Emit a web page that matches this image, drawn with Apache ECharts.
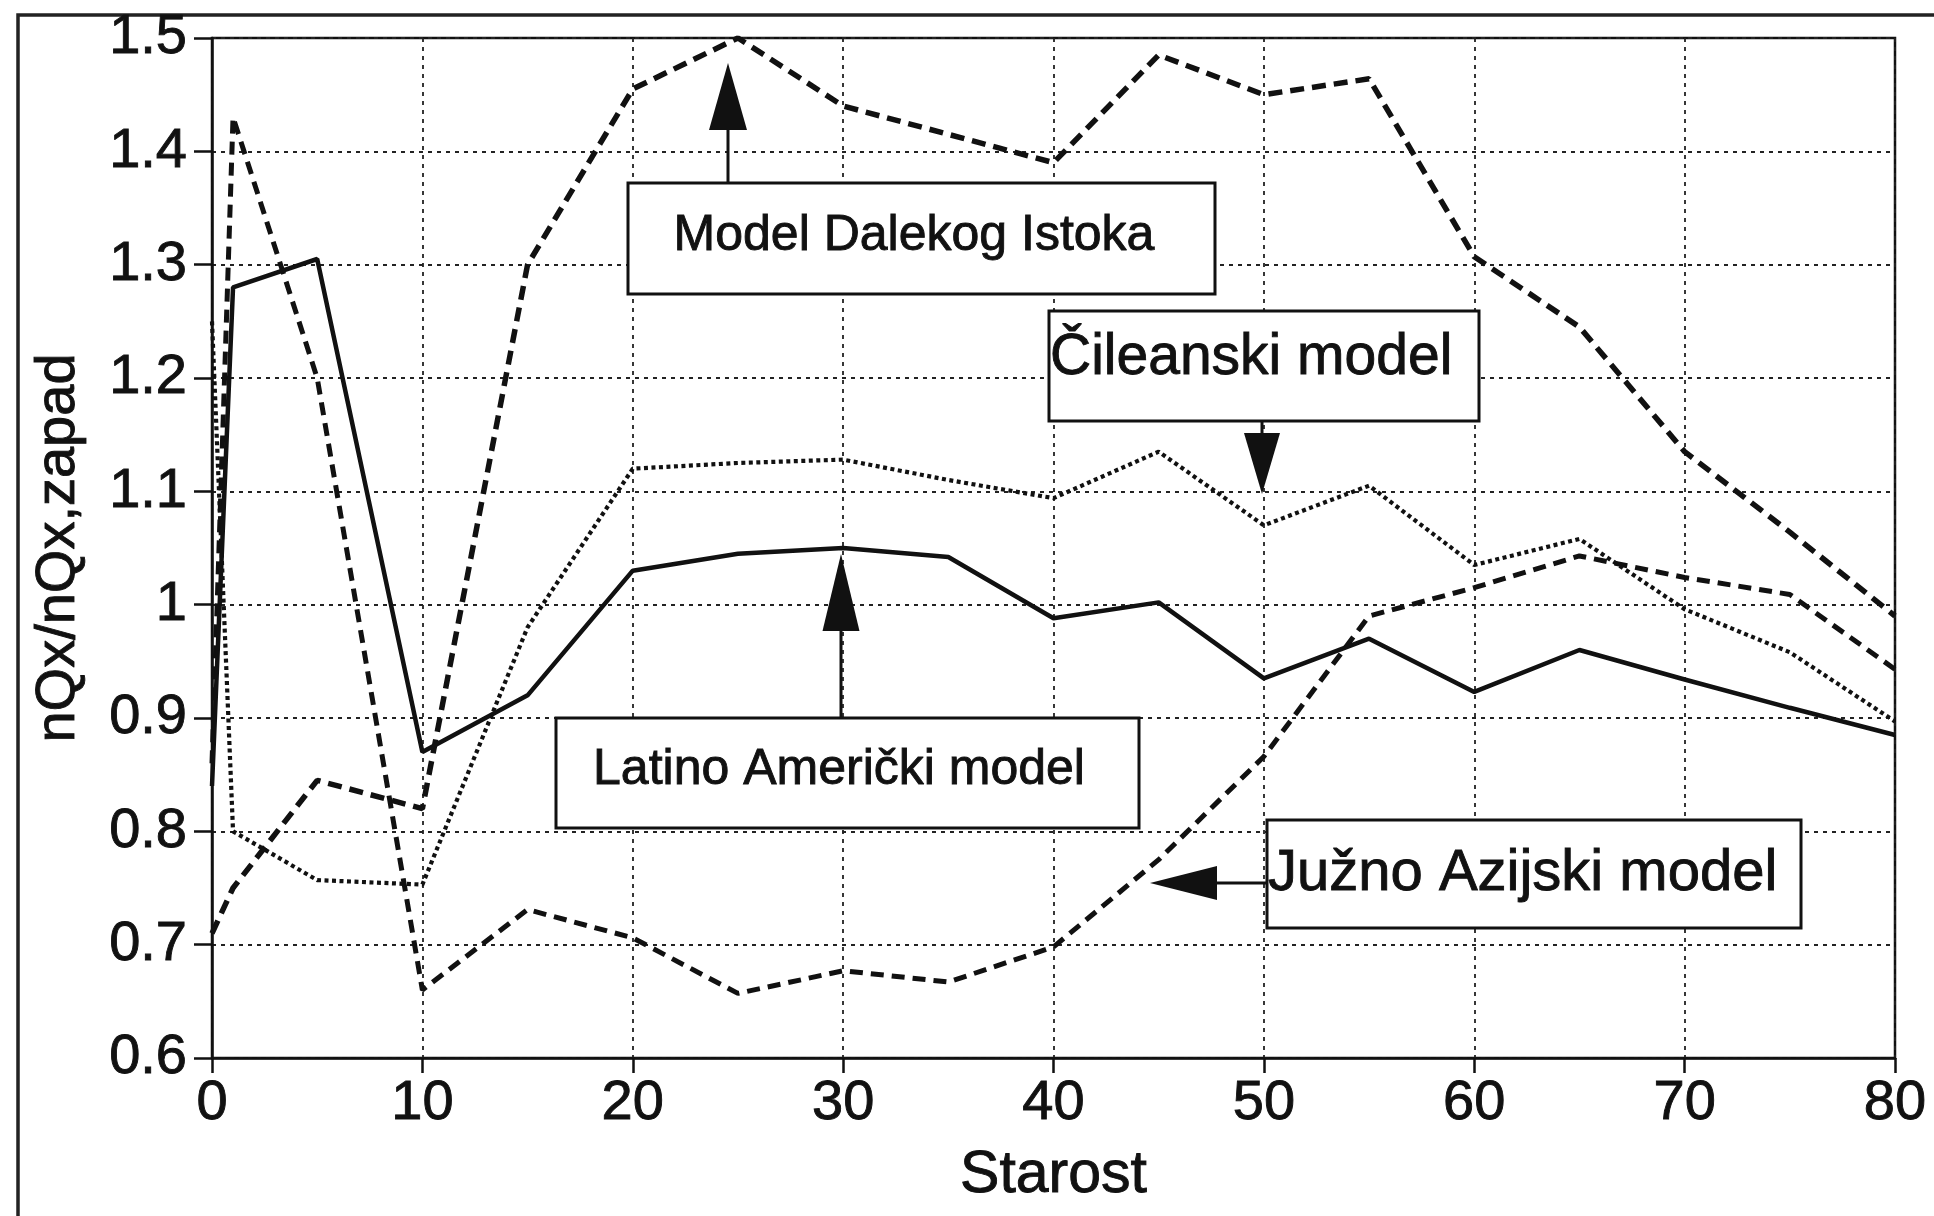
<!DOCTYPE html>
<html><head><meta charset="utf-8">
<script src="https://cdn.jsdelivr.net/npm/echarts@6/dist/echarts.min.js"></script>
<style>html,body{margin:0;padding:0;background:#fff}#c{width:1934px;height:1216px}</style>
</head><body><div id="c"></div>
<script>
// ---- data ----
const ages = [0, 1, 5, 10, 15, 20, 25, 30, 35, 40, 45, 50, 55, 60, 65, 70, 75, 80];
const latinAmerican = [0.84, 1.28, 1.305, 0.87, 0.92, 1.03, 1.045, 1.05, 1.042, 0.988, 1.002, 0.935, 0.97, 0.923, 0.96, 0.934, 0.909, 0.885];
const chilean       = [1.25, 0.80, 0.757, 0.753, 0.98, 1.12, 1.125, 1.128, 1.11, 1.094, 1.135, 1.07, 1.105, 1.035, 1.058, 0.996, 0.958, 0.897];
const southAsian    = [0.86, 1.43, 1.20, 0.66, 0.731, 0.706, 0.657, 0.677, 0.667, 0.698, 0.775, 0.866, 0.99, 1.015, 1.043, 1.024, 1.009, 0.943];
const farEast       = [0.71, 0.75, 0.845, 0.82, 1.30, 1.455, 1.50, 1.44, 1.415, 1.39, 1.485, 1.45, 1.464, 1.307, 1.245, 1.135, 1.064, 0.99];
const seriesNames = ['Latino Američki model', 'Čileanski model', 'Južno Azijski model', 'Model Dalekog Istoka'];
const xTitle = 'Starost';
const yTitle = 'nQx/nQx,zapad';

const FONT = '"Liberation Sans", Arial, Helvetica, sans-serif';
const INK = '#111';
const pairs = v => ages.map((a, i) => [a, v[i]]);

const chart = echarts.init(document.getElementById('c'), null, {renderer: 'canvas'});

function arrow(x1, y1, x2, y2, headLen, headW) {
  const dx = x2 - x1, dy = y2 - y1, L = Math.hypot(dx, dy);
  const ux = dx / L, uy = dy / L, px = -uy, py = ux;
  const bx = x2 - ux * headLen, by = y2 - uy * headLen;
  return [
    {type: 'line', z: 100, shape: {x1: x1, y1: y1, x2: bx, y2: by}, style: {stroke: INK, lineWidth: 3}},
    {type: 'polygon', z: 100, shape: {points: [[x2, y2], [bx + px * headW / 2, by + py * headW / 2], [bx - px * headW / 2, by - py * headW / 2]]}, style: {fill: INK}}
  ];
}
function box(x, y, w, h) {
  return {type: 'rect', z: 99, shape: {x: x, y: y, width: w, height: h}, style: {fill: '#fff', stroke: INK, lineWidth: 3}};
}
function label(text, x, y, size, align) {
  return {type: 'text', z: 101, x: x, y: y, style: {text: text, fontSize: size, fontFamily: FONT, fill: INK,
    stroke: INK, lineWidth: 0.9, align: align, verticalAlign: 'middle'}};
}

const graphics = [
  {type: 'rect', z: 0, shape: {x: 18, y: 15, width: 2000, height: 1400}, style: {fill: 'none', stroke: '#222', lineWidth: 3.5}},
  box(628, 183, 587, 111), label(seriesNames[3], 914, 236, 50, 'center'),
  ...arrow(728, 183, 728, 63, 67, 38),
  box(1049, 311, 430, 110), label(seriesNames[1], 1050, 358, 57, 'left'),
  ...arrow(1262, 421, 1262, 494, 61, 36),
  box(556, 718, 583, 110), label(seriesNames[0], 839, 770, 50, 'center'),
  ...arrow(841, 718, 841, 554, 77, 37),
  box(1267, 820, 534, 108), label(seriesNames[2], 1268, 874, 58, 'left'),
  ...arrow(1267, 883, 1150, 883, 67, 34)
];

const gridLine = {show: true, lineStyle: {color: '#222', width: 1.8, type: [4, 5]}};
const tickText = {fontSize: 56, fontFamily: FONT, color: INK, textBorderColor: INK, textBorderWidth: 0.9};

chart.setOption({
  animation: false,
  backgroundColor: '#fff',
  grid: {left: 212, right: 39, top: 38, bottom: 158, show: true, borderColor: INK, borderWidth: 2.5, backgroundColor: 'transparent'},
  xAxis: {
    type: 'value', min: 0, max: 80, interval: 10,
    name: xTitle, nameLocation: 'middle', nameGap: 88,
    nameTextStyle: {fontSize: 59, fontFamily: FONT, color: INK, textBorderColor: INK, textBorderWidth: 0.9},
    axisLine: {show: true, onZero: false, lineStyle: {color: INK, width: 2.5}},
    axisTick: {show: true, inside: false, length: 15, lineStyle: {color: INK, width: 2.5}},
    axisLabel: Object.assign({margin: 18}, tickText),
    splitLine: gridLine
  },
  yAxis: {
    type: 'value', min: 0.6, max: 1.5, interval: 0.1,
    name: yTitle, nameLocation: 'middle', nameGap: 125, nameRotate: 90,
    nameTextStyle: {fontSize: 56, fontFamily: FONT, color: INK, textBorderColor: INK, textBorderWidth: 0.9},
    axisLine: {show: true, lineStyle: {color: INK, width: 2.5}},
    axisTick: {show: true, inside: false, length: 18, lineStyle: {color: INK, width: 2.5}},
    axisLabel: Object.assign({margin: 25, formatter: v => String(Math.round(v * 10) / 10)}, tickText),
    splitLine: gridLine
  },
  graphic: graphics,
  series: [
    {name: seriesNames[0], type: 'line', data: pairs(latinAmerican), showSymbol: false, z: 5,
      lineStyle: {color: INK, width: 4.5, type: 'solid'}},
    {name: seriesNames[1], type: 'line', data: pairs(chilean), showSymbol: false, z: 4,
      lineStyle: {color: INK, width: 4.2, type: [4, 3.5]}},
    {name: seriesNames[2], type: 'line', data: pairs(southAsian), showSymbol: false, z: 3,
      lineStyle: {color: INK, width: 5, type: [13, 8]}},
    {name: seriesNames[3], type: 'line', data: pairs(farEast), showSymbol: false, z: 3,
      lineStyle: {color: INK, width: 5.5, type: [14, 8]}}
  ]
});
</script>
</body></html>
